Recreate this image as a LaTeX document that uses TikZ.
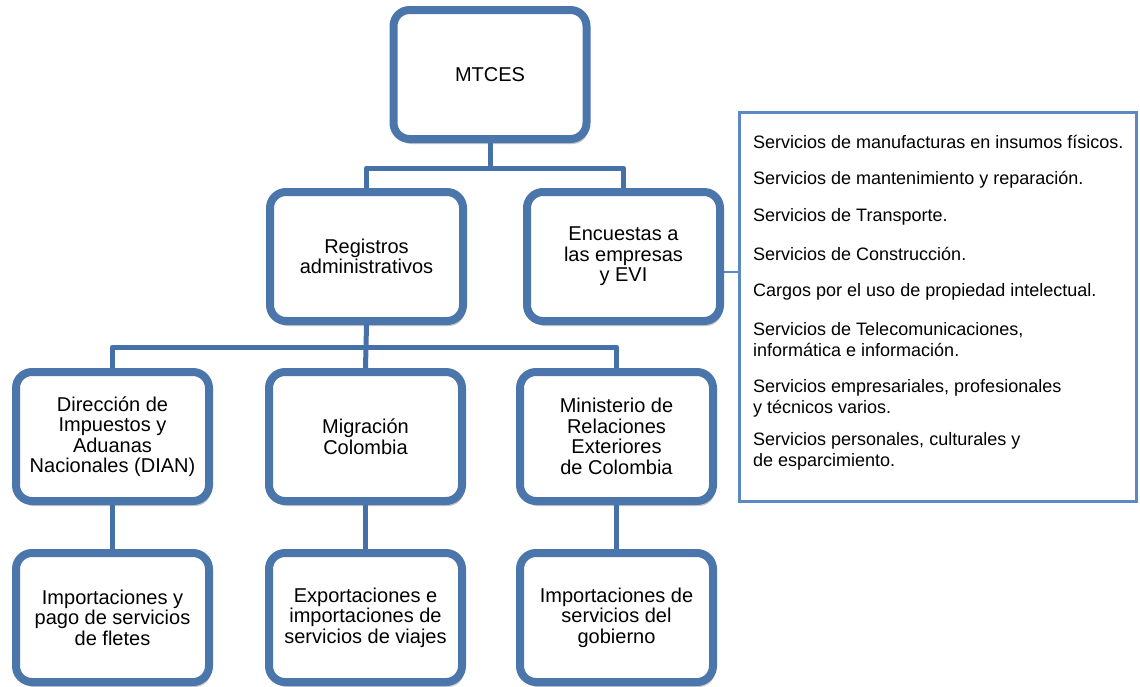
\documentclass[tikz,border=0pt]{standalone}
\usepackage{fontspec}
\setmainfont{Liberation Sans}
\usetikzlibrary{shadows}
\definecolor{boxblue}{HTML}{4A76AC}
\definecolor{lineblue}{HTML}{4570A8}
\definecolor{listblue}{HTML}{5C88C4}
\tikzset{
  orgbox/.style={draw=boxblue, line width=8pt, rounded corners=16pt, fill=white,
    minimum width=193pt, minimum height=129pt, align=center, inner sep=0pt,
    font=\fontsize{20}{20.5}\selectfont,
    drop shadow={shadow xshift=2pt, shadow yshift=-5pt, opacity=0.22, fill=black}},
  conn/.style={draw=lineblue, line width=5pt, line join=round},
  listbox/.style={draw=listblue, line width=3pt, fill=white, minimum width=397pt, minimum height=389pt, inner sep=0pt},
  item/.style={anchor=west, align=left, inner sep=0pt, font=\fontsize{18}{21}\selectfont},
  thinconn/.style={draw=listblue, line width=1.5pt}
}
\begin{document}
\begin{tikzpicture}[x=1pt, y=-1pt]
\useasboundingbox (0,0) rectangle (1140,686);
% boxes
\node[orgbox] (mtces) at (490,74.5) {MTCES};
\node[orgbox] (reg) at (366.5,256.5) {Registros\\administrativos};
\node[orgbox] (enc) at (623.5,256.5) {Encuestas a\\las empresas\\y EVI};
\node[orgbox] (dir) at (112.5,436.5) {Dirección de\\Impuestos y\\Aduanas\\Nacionales (DIAN)};
\node[orgbox] (mig) at (365.5,436.5) {Migración\\Colombia};
\node[orgbox] (min) at (616.5,436.5) {Ministerio de\\Relaciones\\Exteriores\\de Colombia};
\node[orgbox] (imp) at (112.5,617.5) {Importaciones y\\pago de servicios\\de fletes};
\node[orgbox] (exp) at (365.5,617.5) {Exportaciones e\\importaciones de\\servicios de viajes};
\node[orgbox] (gob) at (616.5,617.5) {Importaciones de\\servicios del\\gobierno};
% junctions
\coordinate (j1) at (490,168);
\coordinate (j2) at (364,347);
% connectors
\draw[conn] (mtces.south) -- (j1);
\draw[conn] (reg.north) -- (reg.north |- j1) -- (enc.north |- j1) -- (enc.north);
\draw[conn] (reg.south) -- (mig.north);
\draw[conn] (dir.north) -- (dir.north |- j2) -- (min.north |- j2) -- (min.north);
\draw[conn] (dir.south) -- (imp.north);
\draw[conn] (mig.south) -- (exp.north);
\draw[conn] (min.south) -- (gob.north);
% list
\node[listbox] (list) at (938,307) {};
\draw[thinconn] (enc.east |- 0,272) -- (list.west |- 0,272);
\node[item] (it1) at (753,142) {Servicios de manufacturas en insumos físicos.};
\node[item] (it2) at (753,180) {Servicios de mantenimiento y reparación.};
\node[item] (it3) at (753,217) {Servicios de Transporte.};
\node[item] (it4) at (753,254) {Servicios de Construcción.};
\node[item] (it5) at (753,292) {Cargos por el uso de propiedad intelectual.};
\node[item] (it6) at (753,339.5) {Servicios de Telecomunicaciones,\\informática e información.};
\node[item] (it7) at (753,398.5) {Servicios empresariales, profesionales\\y técnicos varios.};
\node[item] (it8) at (753,451.5) {Servicios personales, culturales y\\de esparcimiento.};
\end{tikzpicture}
\end{document}
